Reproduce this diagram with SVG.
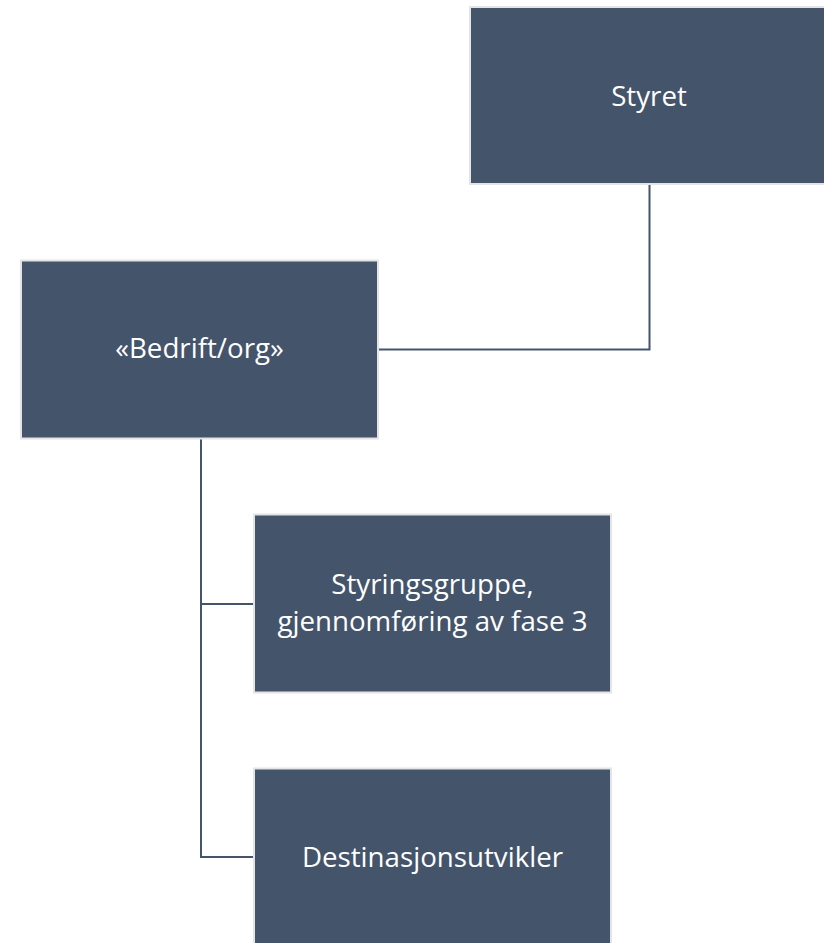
<svg xmlns="http://www.w3.org/2000/svg" width="824" height="943" viewBox="0 0 824 943">
<style>
.box{fill:#44546A;stroke:#E4E4E4;stroke-width:2}
.lbl{fill:#FFFFFF;font-family:"Open Sans","Noto Sans",sans-serif;font-size:27.7px;text-anchor:middle}
.conn{fill:none;stroke:#44546A;stroke-width:2}
</style>
<rect width="824" height="943" fill="#FFFFFF"/>
<g id="connectors">
<path class="conn" d="M649.5,184 V349.5 H379"/>
<path class="conn" d="M201,439 V857 H254"/>
<path class="conn" d="M201,604 H254"/>
</g>
<g id="styret">
<rect class="box" x="470" y="7" width="357" height="177"/>
<text class="lbl" x="649" y="106">Styret</text>
</g>
<g id="bedrift">
<rect class="box" x="21" y="260.5" width="357" height="178"/>
<text class="lbl" x="199.5" y="358">«Bedrift/org»</text>
</g>
<g id="styringsgruppe">
<rect class="box" x="254" y="514.5" width="357" height="178"/>
<text class="lbl" x="432.5" y="594">Styringsgruppe,</text>
<text class="lbl" x="432.5" y="631">gjennomføring av fase 3</text>
</g>
<g id="destinasjonsutvikler">
<rect class="box" x="254" y="768.5" width="357" height="178"/>
<text class="lbl" x="432.5" y="867">Destinasjonsutvikler</text>
</g>
</svg>
